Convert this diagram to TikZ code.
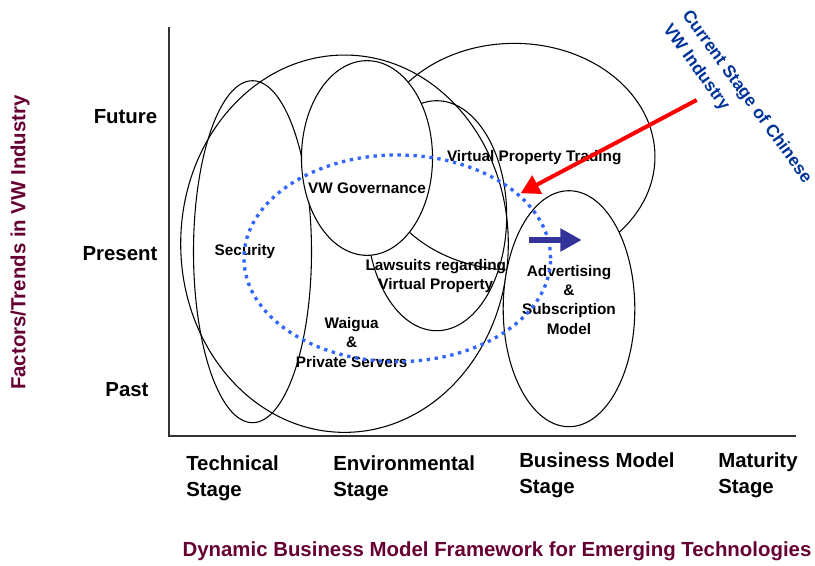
\documentclass[tikz,border=0pt]{standalone}
\usepackage{fontspec}
\setmainfont{Liberation Sans}
\usetikzlibrary{shapes.geometric,arrows.meta}
\tikzstyle{zone}=[draw,ellipse,inner sep=0pt,line width=0.8pt]
\tikzstyle{cover}=[zone,fill=white]
\tikzstyle{stageloop}=[zone,draw=mydotblue,line width=2.5pt,dash pattern=on 2.5pt off 3.5pt]
\tikzstyle{inlabel}=[font=\bfseries\fontsize{11.5}{14.5}\selectfont,align=center,inner sep=0pt]
\tikzstyle{axislabel}=[font=\bfseries\fontsize{15.3}{19.5}\selectfont,inner sep=0pt]
\tikzstyle{stagelabel}=[axislabel,align=left,anchor=north west]
\tikzstyle{axistitle}=[font=\bfseries\fontsize{15.3}{18}\selectfont,text=mymaroon,inner sep=0pt]
\tikzstyle{redpointer}=[draw=red,line width=3pt,-{Triangle[length=14pt,width=15pt]}]
\tikzstyle{bluepointer}=[draw=myarrowblue,line width=5pt,-{Triangle[length=16pt,width=16.5pt]}]
\definecolor{mymaroon}{RGB}{102,0,51}
\definecolor{mynavy}{RGB}{0,51,153}
\definecolor{mydotblue}{RGB}{51,102,255}
\definecolor{myarrowblue}{RGB}{51,51,153}

\begin{document}
\begin{tikzpicture}[x=0.75pt,y=-0.75pt]
\useasboundingbox (0,0) rectangle (815,565);
% axes
\coordinate (ytop) at (169,27);
\coordinate (origin) at (169,436);
\coordinate (xend) at (796,436);
\draw [line width=1.3pt,black!80] (ytop) -- (origin) -- (xend);
% zones
\draw (252.5,251.7) node [zone, minimum width=88.5pt, minimum height=256.5pt] (security) {};
\draw (344.5,243.7) node [zone, minimum width=245.7pt, minimum height=283pt] (envir) {};
\draw (436.7,215.7) node [zone, minimum width=105pt, minimum height=172.5pt] (lawsuits) {};
\draw (514.3,156.7) node [zone, minimum width=211pt, minimum height=170pt] (trading) {};
\draw (367,158) node [cover, minimum width=98.3pt, minimum height=146pt] (governance) {};
\draw (569,308.7) node [cover, minimum width=98.7pt, minimum height=177pt] (advertising) {};
% zone texts
\draw (245,252) node [inlabel] (securitytext) {Security};
\draw (367,188) node [inlabel] (governancetext) {VW Governance};
\draw (534.2,157.3) node [inlabel] (tradingtext) {Virtual Property Trading};
\draw (435.8,276) node [inlabel] (lawsuitstext) {Lawsuits regarding\\Virtual Property};
\draw (351.7,342.5) node [inlabel] (waiguatext) {Waigua\\\&\\Private Servers};
\draw (569,299.7) node [inlabel] (advertisingtext) {Advertising\\\&\\Subscription\\Model};
% current stage
\draw (397.3,258.3) node [stageloop, minimum width=230pt, minimum height=155pt] (currentloop) {};
\draw (737,104) node [rotate=-54, align=left, inner sep=0pt, text=mynavy,
  font=\bfseries\fontsize{13}{17.7}\selectfont] (currentstage) {Current Stage of Chinese\\VW Industry};
\coordinate (pointerstart) at (696.7,100);
\coordinate (pointerend) at (520.7,193.3);
\draw [redpointer] (pointerstart) -- (pointerend);
\coordinate (movestart) at (529,240);
\coordinate (moveend) at (581.7,240);
\draw [bluepointer] (movestart) -- (moveend);
% time axis
\draw (125.5,123.3) node [axislabel, anchor=base] (future) {Future};
\draw (120,260) node [axislabel, anchor=base] (present) {Present};
\draw (127,396.7) node [axislabel, anchor=base] (past) {Past};
% stages
\draw (186,455) node [stagelabel] (technical) {Technical\\Stage};
\draw (333,455) node [stagelabel] (environmental) {Environmental\\Stage};
\draw (519,452) node [stagelabel] (business) {Business Model\\Stage};
\draw (718,452) node [stagelabel] (maturity) {Maturity\\Stage};
% titles
\draw (20,242.5) node [axistitle, rotate=90] (ytitle) {Factors/Trends in VW Industry};
\draw (497,551) node [axistitle] (xtitle) {Dynamic Business Model Framework for Emerging Technologies};
\end{tikzpicture}
\end{document}
